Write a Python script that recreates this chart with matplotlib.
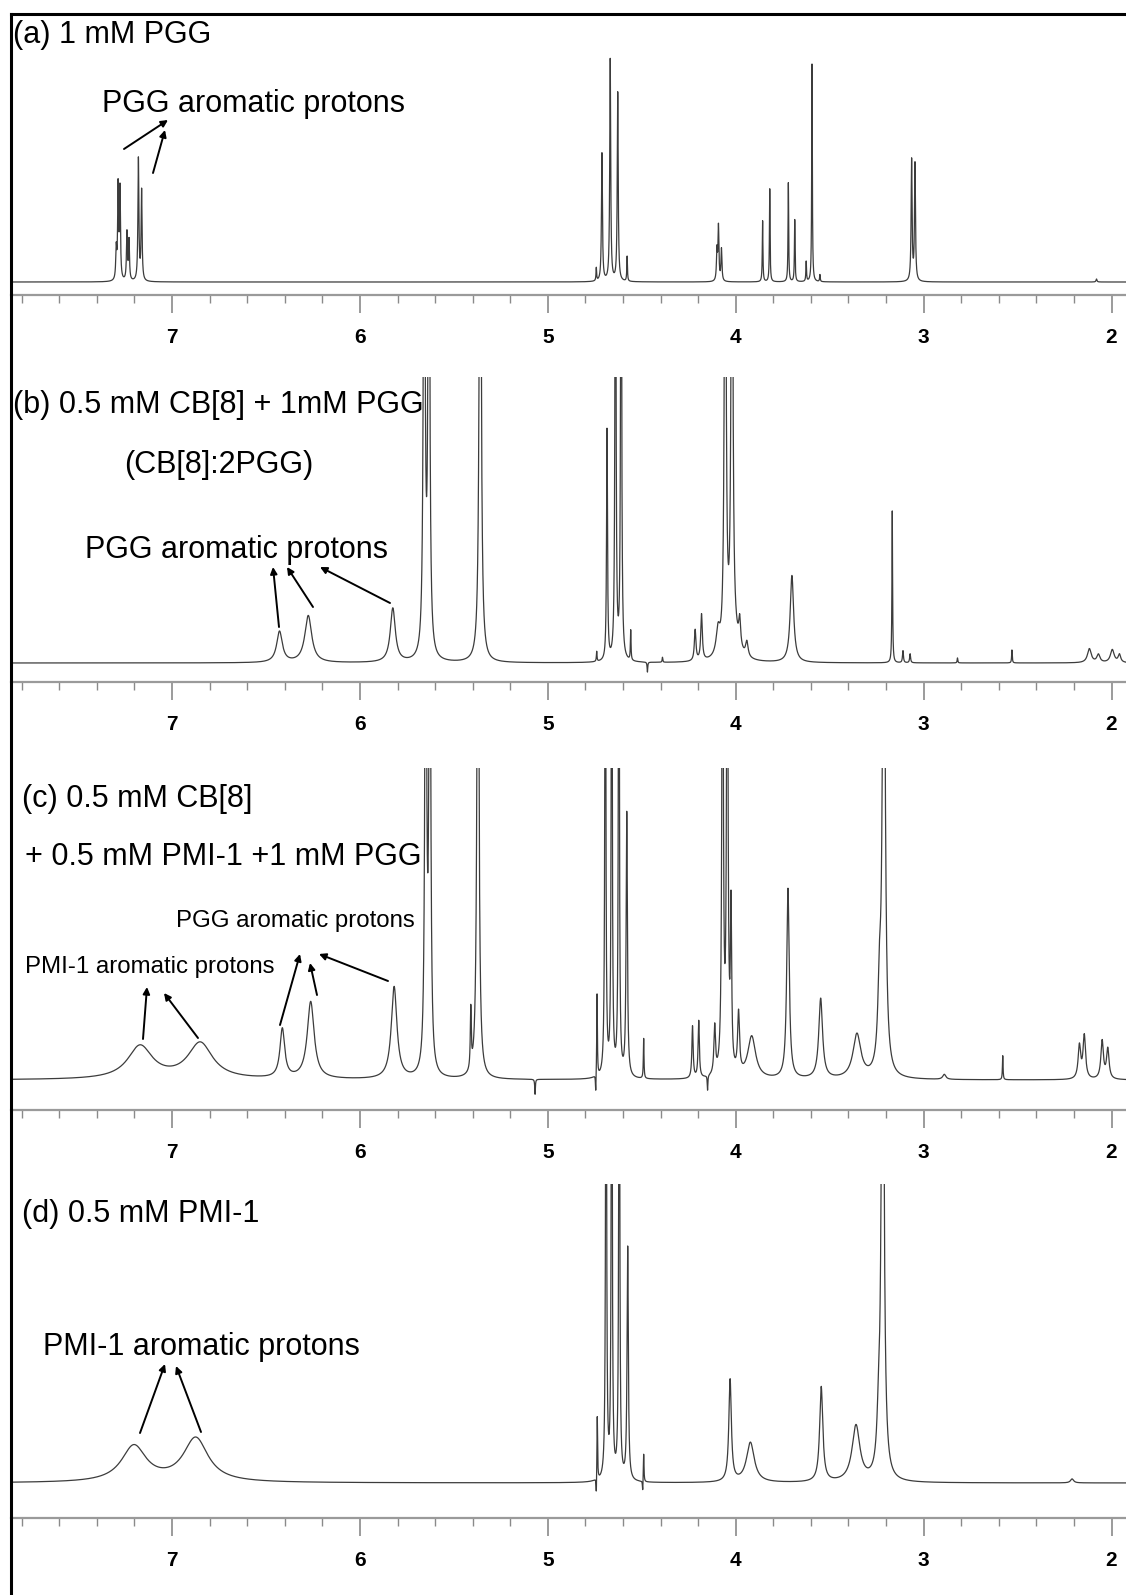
import numpy as np
import matplotlib.pyplot as plt
from matplotlib.ticker import MultipleLocator

plt.rcParams["font.family"] = ["Liberation Sans", "DejaVu Sans"]

W, H = 1126, 1595

# peak lists: shift (ppm), height (px above baseline), half width (ppm)
# heights of 600 are peaks that run off the top of the panel
a_ppm = [7.297, 7.287, 7.277, 7.240, 7.229, 7.179, 7.162,
         4.742, 4.712, 4.668, 4.628, 4.578, 4.100, 4.092, 4.076,
         3.857, 3.819, 3.720, 3.686, 3.625, 3.594, 3.552, 3.064, 3.046, 2.08]
a_height = [30, 93, 90, 48, 40, 122, 90,
            13, 128, 222, 189, 25, 30, 54, 32,
            61, 93, 99, 62, 20, 218, 7, 121, 117, 3]
a_hw = [0.003, 0.003, 0.003, 0.003, 0.003, 0.003, 0.003,
        0.002, 0.003, 0.003, 0.003, 0.002, 0.003, 0.003, 0.003,
        0.002, 0.002, 0.002, 0.002, 0.002, 0.002, 0.002, 0.003, 0.003, 0.003]

b_ppm = [6.428, 6.275, 5.825, 5.658, 5.633, 5.360,
         4.740, 4.685, 4.640, 4.610, 4.559, 4.470, 4.390,
         4.216, 4.182, 4.094, 4.056, 4.020, 4.010, 3.979, 3.941,
         3.701, 3.167, 3.110, 3.072, 2.820, 2.530, 2.118, 2.070, 1.996, 1.958]
b_height = [31, 47, 54, 600, 600, 600,
            10, 231, 600, 600, 30, -10, 5,
            31, 46, 25, 600, 600, 20, 27, 15,
            87, 152, 12, 9, 5, 13, 14, 8, 13, 8]
b_hw = [0.018, 0.022, 0.016, 0.005, 0.005, 0.006,
        0.002, 0.003, 0.003, 0.003, 0.002, 0.002, 0.002,
        0.005, 0.005, 0.012, 0.005, 0.005, 0.03, 0.006, 0.008,
        0.011, 0.002, 0.003, 0.003, 0.002, 0.002, 0.012, 0.01, 0.012, 0.008]

c_ppm = [7.170, 6.850, 6.413, 6.262, 5.818, 5.650, 5.628, 5.410, 5.372,
         5.068, 4.745, 4.738, 4.694, 4.660, 4.622, 4.580, 4.490,
         4.230, 4.197, 4.150, 4.112, 4.070, 4.045, 4.025, 3.985, 3.915,
         3.722, 3.548, 3.355, 3.235, 3.212, 2.890, 2.579,
         2.171, 2.145, 2.050, 2.020]
c_height = [33, 36, 49, 77, 92, 600, 600, 60, 600,
            -15, -20, 83, 600, 600, 600, 264, 40,
            52, 57, -15, 48, 600, 600, 158, 60, 42,
            190, 80, 44, 72, 600, 5, 24,
            33, 43, 38, 30]
c_hw = [0.08, 0.08, 0.015, 0.022, 0.018, 0.005, 0.005, 0.003, 0.006,
        0.002, 0.002, 0.002, 0.003, 0.003, 0.003, 0.004, 0.002,
        0.004, 0.004, 0.002, 0.005, 0.004, 0.004, 0.004, 0.006, 0.025,
        0.008, 0.012, 0.025, 0.01, 0.008, 0.01, 0.002,
        0.008, 0.008, 0.008, 0.008]

d_ppm = [7.203, 6.874, 4.742, 4.737, 4.690, 4.660, 4.620, 4.575, 4.495, 4.490,
         4.030, 3.922, 3.545, 3.360, 3.240, 3.218, 2.210]
d_height = [36, 44, -20, 65, 600, 600, 600, 233, -12, 29,
            102, 40, 95, 56, 40, 600, 4]
d_hw = [0.08, 0.08, 0.002, 0.002, 0.003, 0.003, 0.003, 0.004, 0.002, 0.002,
        0.008, 0.025, 0.01, 0.025, 0.01, 0.008, 0.01]

# panel layout in pixels: axis line, baseline, top edge
panels = [
    (a_ppm, a_height, a_hw, 295, 282, 14),
    (b_ppm, b_height, b_hw, 682, 663, 377),
    (c_ppm, c_height, c_hw, 1110, 1080, 768),
    (d_ppm, d_height, d_hw, 1518, 1483, 1184),
]

x_left, x_right = 7.857, 1.923
shift = np.linspace(x_left, x_right, 40000)

fig = plt.figure(figsize=(W / 100, H / 100), dpi=100)

for ppm, height, hw, y_axis, y_base, y_top in panels:
    ax = fig.add_axes([11 / W, 1 - y_axis / H, 1 - 11 / W, (y_axis - y_top) / H])
    ax.patch.set_alpha(0)
    spec = np.zeros_like(shift)
    for p, h, w in zip(ppm, height, hw):
        spec += h / (1 + ((shift - p) / w) ** 2)
    ax.plot(shift, spec, color="#3c3c3c", lw=0.9)
    ax.set_xlim(x_left, x_right)
    ax.set_ylim(-(y_axis - y_base), y_base - y_top)
    for s in ["top", "left", "right"]:
        ax.spines[s].set_visible(False)
    ax.spines["bottom"].set_color("#9a9a9a")
    ax.spines["bottom"].set_linewidth(1.6)
    ax.xaxis.set_major_locator(MultipleLocator(1))
    ax.xaxis.set_minor_locator(MultipleLocator(0.2))
    ax.tick_params(axis="x", which="major", length=13, width=1.2, color="#8a8a8a",
                   pad=11, labelsize=15)
    ax.tick_params(axis="x", which="minor", length=6, width=1.0, color="#8a8a8a")
    for lab in ax.get_xticklabels():
        lab.set_fontweight("bold")
    ax.set_yticks([])


def fx(x):
    return x / W


def fy(y):
    return 1 - y / H


big = 22
fig.text(fx(13), fy(43), "(a) 1 mM PGG", fontsize=big)
fig.text(fx(102), fy(112), "PGG aromatic protons", fontsize=big)
fig.text(fx(13), fy(413), "(b) 0.5 mM CB[8] + 1mM PGG", fontsize=big)
fig.text(fx(124), fy(473), "(CB[8]:2PGG)", fontsize=big)
fig.text(fx(85), fy(558), "PGG aromatic protons", fontsize=big)
fig.text(fx(22), fy(807), "(c) 0.5 mM CB[8]", fontsize=big)
fig.text(fx(25), fy(865), "+ 0.5 mM PMI-1 +1 mM PGG", fontsize=big)
fig.text(fx(176), fy(927), "PGG aromatic protons", fontsize=17.3)
fig.text(fx(25), fy(973), "PMI-1 aromatic protons", fontsize=17.3)
fig.text(fx(22), fy(1222), "(d) 0.5 mM PMI-1", fontsize=big)
fig.text(fx(43), fy(1355), "PMI-1 aromatic protons", fontsize=big)

# arrows: (tail x, tail y, head x, head y) in pixels
arrows = [
    (124, 149, 168, 120), (153, 173, 165, 130),
    (279, 627, 273, 567), (313, 607, 287, 567), (390, 603, 320, 567),
    (143, 1039, 147, 987), (198, 1038, 164, 993),
    (280, 1025, 300, 954), (317, 995, 310, 963), (388, 981, 319, 954),
    (140, 1433, 165, 1364), (201, 1432, 176, 1366),
]
for x0, y0, x1, y1 in arrows:
    fig.add_artist(plt.matplotlib.patches.FancyArrowPatch(
        (fx(x0), fy(y0)), (fx(x1), fy(y1)), transform=fig.transFigure,
        arrowstyle="-|>", mutation_scale=10, lw=1.4, color="black",
        shrinkA=0, shrinkB=0))

# outer frame (left and top edges)
fig.add_artist(plt.Line2D([fx(11), fx(11)], [0, fy(14)], color="black", lw=2.2,
                          transform=fig.transFigure))
fig.add_artist(plt.Line2D([fx(11), 1], [fy(14), fy(14)], color="black", lw=2.2,
                          transform=fig.transFigure))

fig.savefig("out.png", dpi=100)
